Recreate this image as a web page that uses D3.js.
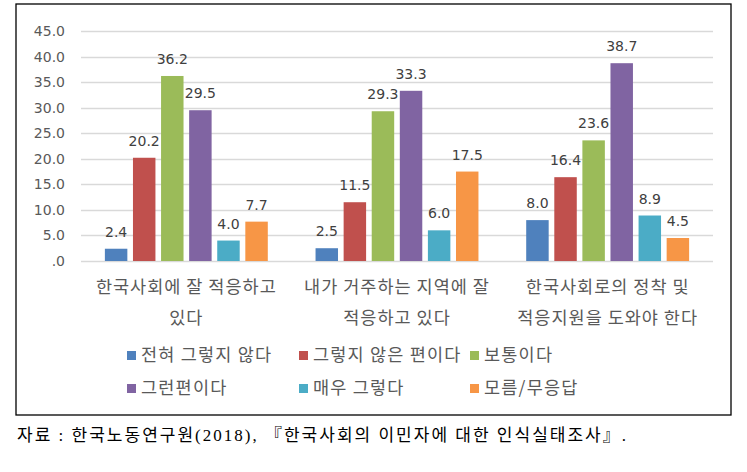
<!DOCTYPE html>
<html>
<head>
<meta charset="utf-8">
<script src="https://cdn.jsdelivr.net/npm/d3@7"></script>
<style>
  html, body { margin: 0; padding: 0; background: #fff; }
  svg { display: block; }
</style>
</head>
<body>
<svg id="chart" width="747" height="472"></svg>
<script>
// ---- data ----
const categories = ["cat1", "cat2", "cat3"];
const categoryLines = [
  ["한국사회에 잘 적응하고", "있다"],
  ["내가 거주하는 지역에 잘", "적응하고 있다"],
  ["한국사회로의 정착 및", "적응지원을 도와야 한다"]
];
const seriesNames = ["전혀 그렇지 않다", "그렇지 않은 편이다", "보통이다", "그런편이다", "매우 그렇다", "모름/무응답"];
const seriesColors = ["#4F81BD", "#C0504D", "#9BBB59", "#8064A2", "#4BACC6", "#F79646"];
const s1 = [2.4, 2.5, 8.0];
const s2 = [20.2, 11.5, 16.4];
const s3 = [36.2, 29.3, 23.6];
const s4 = [29.5, 33.3, 38.7];
const s5 = [4.0, 6.0, 8.9];
const s6 = [7.7, 17.5, 4.5];
const seriesValues = [s1, s2, s3, s4, s5, s6];
const tickValues = [0, 5, 10, 15, 20, 25, 30, 35, 40, 45];
const tickLabels = [".0", "5.0", "10.0", "15.0", "20.0", "25.0", "30.0", "35.0", "40.0", "45.0"];
const sourceText = "자료 : 한국노동연구원(2018), 『한국사회의 이민자에 대한 인식실태조사』.";

// ---- drawing ----
const svg = d3.select("#chart");
const numFont = "'DejaVu Sans', sans-serif";
const korFont = "'Noto Sans CJK KR', sans-serif";
const textGray = "#595959";

// frame
svg.append("rect").attr("x", 16).attr("y", 4).attr("width", 715).attr("height", 411)
  .attr("fill", "none").attr("stroke", "#000").attr("stroke-width", 1.3);

const plotLeft = 81, plotRight = 713;
const y = d3.scaleLinear().domain([0, 45]).range([261, 31]);
const x0 = d3.scaleBand().domain(categories).range([plotLeft, plotRight]).paddingInner(0.2).paddingOuter(0.1);
const x1 = d3.scaleBand().domain(d3.range(seriesNames.length)).range([0, x0.bandwidth()]).paddingInner(0.2).paddingOuter(0.1);

// gridlines
svg.append("g").selectAll("line").data(tickValues).join("line")
  .attr("x1", plotLeft).attr("x2", plotRight)
  .attr("y1", d => Math.round(y(d)) + 0.5).attr("y2", d => Math.round(y(d)) + 0.5)
  .attr("stroke", "#d9d9d9").attr("stroke-width", 1.3);

// y axis labels
const yAxis = d3.axisLeft(y).tickValues(tickValues).tickSize(0).tickPadding(0)
  .tickFormat((d, i) => tickLabels[i]);
const gy = svg.append("g").attr("transform", "translate(65,0)").call(yAxis);
gy.select(".domain").remove();
gy.selectAll("text").attr("font-family", numFont).attr("font-size", 14).attr("fill", textGray);

// bars
const flat = [];
categories.forEach((c, ci) => seriesValues.forEach((vals, si) => flat.push({c, ci, si, v: vals[ci]})));

svg.append("g").selectAll("rect").data(flat).join("rect")
  .attr("x", d => x0(d.c) + x1(d.si))
  .attr("width", x1.bandwidth())
  .attr("y", d => y(d.v))
  .attr("height", d => y(0) - y(d.v))
  .attr("fill", d => seriesColors[d.si]);

// data labels
svg.append("g").selectAll("text").data(flat).join("text")
  .attr("x", d => x0(d.c) + x1(d.si) + x1.bandwidth() / 2)
  .attr("y", d => y(d.v) - 12)
  .attr("text-anchor", "middle")
  .attr("font-family", numFont).attr("font-size", 14).attr("fill", "#404040")
  .text(d => d3.format(".1f")(d.v));

// category labels
const catG = svg.append("g");
categories.forEach((c, ci) => {
  const cx = x0(c) + x0.bandwidth() / 2;
  categoryLines[ci].forEach((line, li) => {
    catG.append("text")
      .attr("x", cx).attr("y", 293 + li * 31)
      .attr("text-anchor", "middle")
      .attr("font-family", korFont).attr("font-size", 17.5).attr("letter-spacing", 1)
      .attr("fill", textGray)
      .text(line);
  });
});

// legend
const legendCols = [127, 299, 470];
const legendRows = [355, 388];
const lg = svg.append("g");
seriesNames.forEach((name, i) => {
  const lx = legendCols[i % 3], ly = legendRows[Math.floor(i / 3)];
  lg.append("rect").attr("x", lx).attr("y", ly - 4).attr("width", 9).attr("height", 9)
    .attr("fill", seriesColors[i]);
  lg.append("text").attr("x", lx + 14).attr("y", ly + 6)
    .attr("font-family", korFont).attr("font-size", 17.5).attr("letter-spacing", 1.2)
    .attr("fill", textGray)
    .text(name);
});

// source text
svg.append("text").attr("x", 17).attr("y", 441)
  .attr("font-family", "'Liberation Serif', 'Noto Sans CJK KR', serif")
  .attr("font-size", 17).attr("fill", "#000")
  .attr("textLength", 609).attr("lengthAdjust", "spacing")
  .text(sourceText);
</script>
</body>
</html>
